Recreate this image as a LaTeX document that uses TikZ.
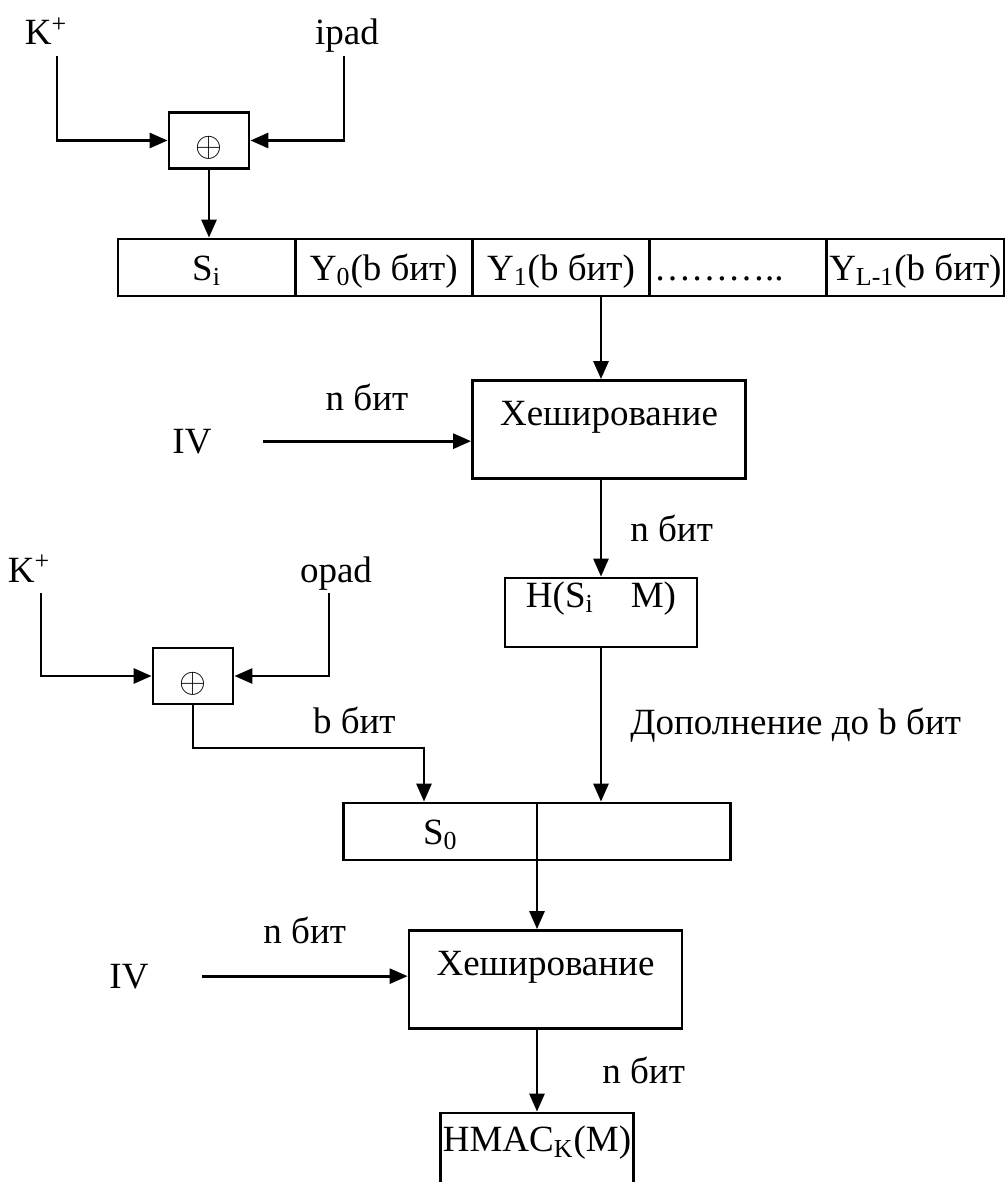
\documentclass[tikz,border=0pt]{standalone}
\usepackage{fontspec}
\setmainfont{Liberation Serif}
\usetikzlibrary{matrix,arrows.meta,positioning}

\begin{document}
\begin{tikzpicture}[x=0.5pt, y=-0.5pt, line width=1.4pt,
    font=\fontsize{18.5}{22}\selectfont,
    every node/.style={inner sep=1pt},
    arr/.style={-{Triangle[length=9pt, width=7.5pt]}},
    lbl/.style={inner sep=1pt},
    xorbox/.style={draw, minimum width=40pt, minimum height=28pt,
                   text height=17pt, text depth=1pt,
                   font=\fontsize{17}{19}\selectfont},
    hashbox/.style={draw, minimum width=136.5pt, minimum height=49pt,
                    text depth=16.5pt}]
    \useasboundingbox (0,0) rectangle (1005,1182);

    \node[anchor=base] (kp1) at (46,45) {K\textsuperscript{+}};
    \node[anchor=base] (ipad) at (347,45) {ipad};
    \node[xorbox] (xor1) at (209,140.5) {$\oplus$};

    \matrix[matrix of nodes,
            nodes in empty cells,
            ampersand replacement=\&,
            inner sep=0pt, column sep=-1.4pt,
            nodes={draw, minimum width=88.6pt, minimum height=28.5pt,
                   inner sep=1pt, text height=17pt, text depth=4pt}]
        (blk) at (561,267.5) {
      S\textsubscript{i} \& Y\textsubscript{0}(b бит) \& Y\textsubscript{1}(b бит)
         \& |[text width=84pt, align=left]| ……….. \& Y\textsubscript{L-1}(b бит) \\
    };

    \node[anchor=base] (iv1) at (192,453) {IV};
    \node[hashbox] (hash1) at (609,429.5) {Хеширование};
    \node[draw, minimum width=96pt, minimum height=34.5pt,
          text height=12.6pt, text depth=17.7pt] (hsm) at (601,612.5)
          {H(S\textsubscript{i}\quad M)};

    \node[anchor=base] (kp2) at (29,582) {K\textsuperscript{+}};
    \node[anchor=base] (opad) at (336,582) {opad};
    \node[xorbox] (xor2) at (193,676) {$\oplus$};
    \coordinate (bjoin) at (424,748);

    \matrix[matrix of nodes,
            nodes in empty cells,
            ampersand replacement=\&,
            inner sep=0pt, column sep=-1.4pt,
            nodes={draw, minimum width=96.6pt, minimum height=28.5pt,
                   inner sep=1pt, text height=17pt, text depth=4pt}]
        (s0) at (537,831.5) {
      S\textsubscript{0} \& {} \\
    };
    \coordinate (s0mid) at ([xshift=-0.7pt]s0-1-1.south east);

    \node[anchor=base] (iv2) at (129,988) {IV};
    \node[hashbox] (hash2) at (545.5,979.5) {Хеширование};
    \node[draw, minimum width=96pt, minimum height=40pt,
          text height=12.6pt, text depth=13.7pt] (hmac) at (537,1153)
          {HMAC\textsubscript{K}(M)};

    % inner hash
    \draw[arr, shorten <=4pt] ([xshift=5.5pt]kp1.south) |- (xor1.west);
    \draw[arr] ([xshift=-1.5pt]ipad.south) |- (xor1.east);
    \draw[arr] (xor1.south) -- (xor1.south |- blk-1-1.north);
    \draw[arr] (hsm.north |- blk-1-3.south) -- (hsm.north |- hash1.north);
    \draw[arr] ([xshift=24pt]iv1.east) -- (iv1.east -| hash1.west)
        node[lbl, midway, above=13.5pt] {n бит};
    \draw[arr] (hash1.south -| hsm.north) -- (hsm.north)
        node[lbl, midway, right=13pt] {n бит};
    \draw[arr] (hsm.south) -- (hsm.south |- s0-1-2.north)
        node[lbl, midway, right=13pt] {Дополнение до b бит};

    % outer hash
    \draw[arr, shorten <=4pt] ([xshift=6pt]kp2.south) |- (xor2.west);
    \draw[arr] ([xshift=-3.5pt]opad.south) |- (xor2.east);
    \draw[arr] (xor2.south) |- (bjoin)
        node[lbl, anchor=south east, xshift=-12.5pt, yshift=5.5pt] {b бит}
        -- (bjoin |- s0-1-1.north);
    \draw[arr] (s0mid) -- (s0mid |- hash2.north);
    \draw[arr] ([xshift=25pt]iv2.east) -- (iv2.east -| hash2.west)
        node[lbl, midway, above=14.5pt] {n бит};
    \draw[arr] (hash2.south -| hmac.north) -- (hmac.north)
        node[lbl, midway, right=31pt] {n бит};
\end{tikzpicture}
\end{document}
